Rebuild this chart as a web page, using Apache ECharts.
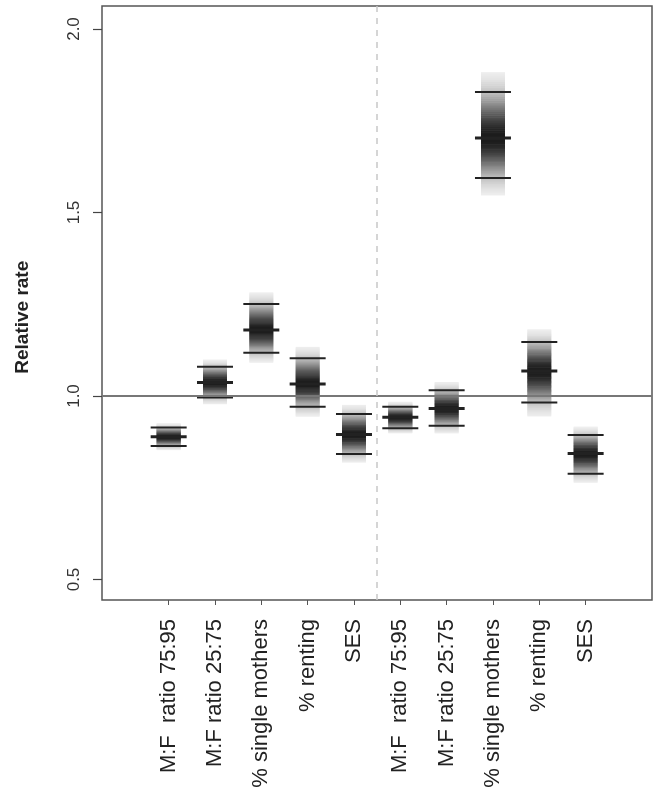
<!DOCTYPE html>
<html><head><meta charset="utf-8">
<script src="https://cdn.jsdelivr.net/npm/echarts@6/dist/echarts.min.js"></script>
<style>html,body{margin:0;padding:0;background:#fff}#c{width:664px;height:799px}</style>
</head><body><div id="c"></div>
<script>
var categories = ["M:F  ratio 75:95","M:F ratio 25:75","% single mothers","% renting","SES",
                  "M:F  ratio 75:95","M:F ratio 25:75","% single mothers","% renting","SES"];
var lowerCI = [0.864, 0.996, 1.118, 0.971, 0.842, 0.912, 0.919, 1.594, 0.982, 0.788];
var estimate = [0.889, 1.037, 1.180, 1.033, 0.895, 0.942, 0.966, 1.703, 1.068, 0.843];
var upperCI = [0.914, 1.080, 1.251, 1.103, 0.951, 0.971, 1.016, 1.828, 1.147, 0.894];
var yTicks = [0.5, 1.0, 1.5, 2.0];
var refLine = 1.0;
var groupDivider = 5.5;

var data = categories.map(function(c,i){ return [i, lowerCI[i], estimate[i], upperCI[i]]; });
var FONT = '"Liberation Sans", Arial, sans-serif';

function renderItem(params, api){
  var idx = api.value(0), lo = api.value(1), mid = api.value(2), up = api.value(3);
  var cx = api.coord([idx, mid])[0];
  var sdU = (up - mid)/1.96, sdL = (mid - lo)/1.96;
  var children = [];
  var bandHalf = 12, lineHalf = 18;
  var N = 70, zmax = 2.8;
  for (var k = 0; k < N; k++){
    var z0 = -zmax + 2*zmax*k/N, z1 = -zmax + 2*zmax*(k+1)/N;
    var zc = (z0+z1)/2;
    var v0 = mid + z0*(z0<0?sdL:sdU), v1 = mid + z1*(z1<0?sdL:sdU);
    var p0 = api.coord([idx, v0])[1], p1 = api.coord([idx, v1])[1];
    var g = Math.round(255 - 228*Math.exp(-zc*zc/3));
    var col = 'rgb('+g+','+g+','+g+')';
    children.push({type:'rect', shape:{x:cx-bandHalf, y:Math.min(p0,p1)-0.3, width:bandHalf*2, height:Math.abs(p1-p0)+0.6},
      style:{fill:col}, silent:true});
  }
  var yl = api.coord([idx, lo])[1], ym = api.coord([idx, mid])[1], yu = api.coord([idx, up])[1];
  [[yl,2],[yu,2],[ym,3]].forEach(function(a){
    children.push({type:'line', shape:{x1:cx-lineHalf, y1:a[0], x2:cx+lineHalf, y2:a[0]},
      style:{stroke:'#222', lineWidth:a[1]}});
  });
  return {type:'group', children:children};
}

var chart = echarts.init(document.getElementById('c'), null, {renderer:'canvas'});
chart.setOption({
  animation:false,
  backgroundColor:'#fff',
  grid:[
    {left:102, right:12, top:6, bottom:199, show:true, borderColor:'#555', borderWidth:1.5, backgroundColor:'transparent'},
    {left:145.5, width:463.3, top:29, height:550.5}
  ],
  xAxis:[
    {gridIndex:0, type:'value', min:-0.44, max:11.44, show:false},
    {gridIndex:1, type:'category', data:categories, boundaryGap:true, position:'bottom', offset:20.5,
     axisLine:{show:false}, axisTick:{show:true, alignWithLabel:true, length:5, lineStyle:{color:'#555', width:1}},
     axisLabel:{interval:0, rotate:90, fontSize:22, color:'#222', fontFamily:FONT, margin:19},
     splitLine:{show:false}}
  ],
  yAxis:[
    {gridIndex:0, type:'value', min:0.4441, max:2.0627, show:false},
    {gridIndex:1, type:'value', min:0.5, max:2.0, interval:0.5, position:'left', offset:43.5,
     axisLine:{show:false}, axisTick:{show:true, length:9, lineStyle:{color:'#444', width:1.2}},
     splitLine:{show:false},
     axisLabel:{rotate:90, fontSize:17, color:'#333', fontFamily:FONT, margin:19,
       formatter:function(v){ return v.toFixed(1); }},
     name:'Relative rate', nameLocation:'middle', nameGap:70,
     nameTextStyle:{fontSize:19, fontWeight:'bold', color:'#222', fontFamily:FONT, padding:[0,26,0,0]}}
  ],
  series:[
    {type:'line', xAxisIndex:0, yAxisIndex:0, data:[], silent:true,
     markLine:{symbol:'none', silent:true, label:{show:false},
       data:[
         {yAxis:refLine, lineStyle:{color:'#777', width:2, type:'solid'}},
         {xAxis:groupDivider, lineStyle:{color:'#c8c8c8', width:1.5, type:[6,6]}}
       ]}},
    {type:'custom', xAxisIndex:1, yAxisIndex:1, data:data, renderItem:renderItem, clip:false, z:3}
  ]
});
</script></body></html>
